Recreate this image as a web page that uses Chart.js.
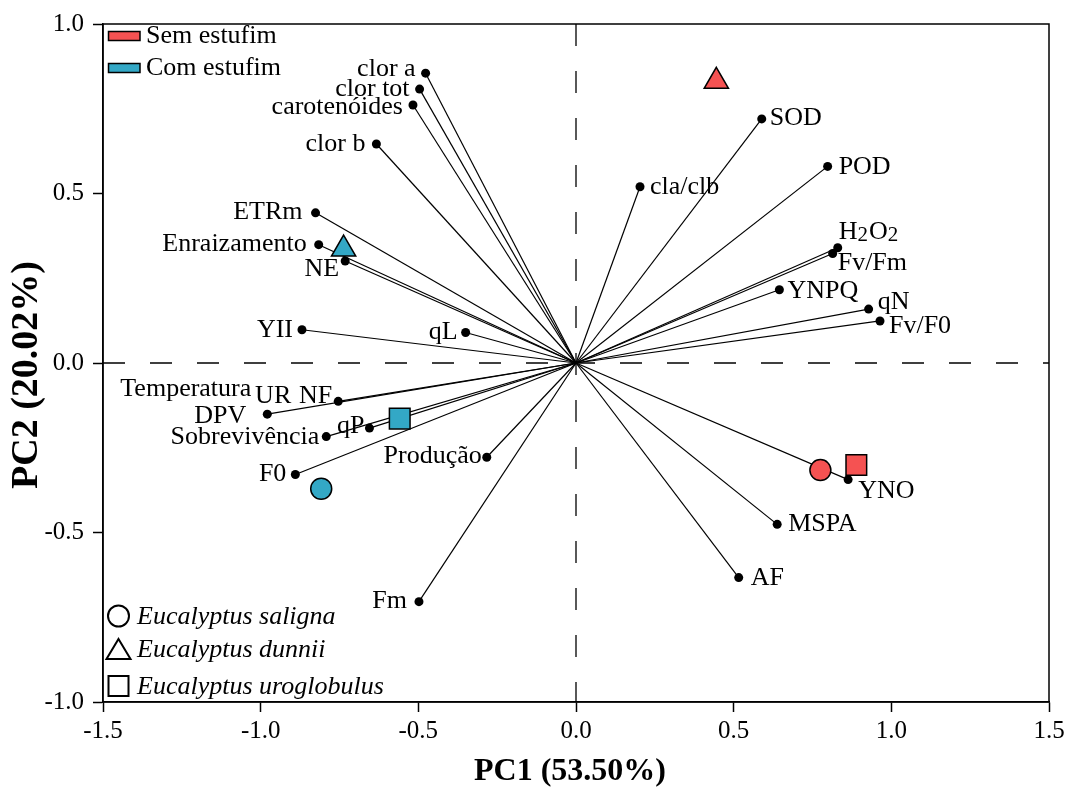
<!DOCTYPE html>
<html>
<head>
<meta charset="utf-8">
<script src="https://cdn.jsdelivr.net/npm/chart.js@4"></script>
<style>
  body { margin: 0; background: #fff; }
  #wrap { width: 1071px; height: 791px; }
</style>
</head>
<body>
<div id="wrap"><canvas id="pca" width="1071" height="791"></canvas></div>
<script>
// loadings (PC1, PC2)
const variables = ['clor a', 'clor tot', 'carotenóides', 'clor b', 'ETRm', 'Enraizamento', 'NE', 'YII', 'qL',
  'Temperatura', 'UR', 'NF', 'DPV', 'qP', 'Sobrevivência', 'F0', 'Produção', 'Fm',
  'cla/clb', 'SOD', 'POD', 'H2O2', 'Fv/Fm', 'YNPQ', 'qN', 'Fv/F0', 'YNO', 'MSPA', 'AF'];
const pc1 = [-0.477, -0.496, -0.517, -0.633, -0.826, -0.816, -0.732, -0.869, -0.350,
  -0.979, -0.754, -0.754, -0.979, -0.655, -0.792, -0.890, -0.283, -0.498,
  0.203, 0.589, 0.798, 0.830, 0.814, 0.645, 0.928, 0.964, 0.863, 0.638, 0.516];
const pc2 = [0.855, 0.808, 0.761, 0.646, 0.443, 0.349, 0.301, 0.098, 0.090,
  -0.151, -0.113, -0.113, -0.151, -0.192, -0.217, -0.329, -0.278, -0.704,
  0.520, 0.720, 0.580, 0.340, 0.323, 0.216, 0.159, 0.124, -0.344, -0.476, -0.633];

// scores
const species = ['Eucalyptus saligna', 'Eucalyptus dunnii', 'Eucalyptus uroglobulus'];
const semPC1 = [0.775, 0.445, 0.889];
const semPC2 = [-0.316, 0.831, -0.301];
const comPC1 = [-0.808, -0.737, -0.559];
const comPC2 = [-0.371, 0.336, -0.164];

const xTicks = [-1.5, -1.0, -0.5, 0.0, 0.5, 1.0, 1.5];
const yTicks = [-1.0, -0.5, 0.0, 0.5, 1.0];

const RED = '#f55252';
const BLUE = '#33a8c6';
const SERIF = "'Liberation Serif', 'Times New Roman', serif";

// where each label sits relative to its dot
const labelPlace = {
  'clor a': ['right', -10, -4], 'clor tot': ['right', -10, 0], 'carotenóides': ['right', -10, 2],
  'clor b': ['right', -11, 0], 'ETRm': ['right', -13, -1], 'Enraizamento': ['right', -12, -1],
  'NE': ['right', -6, 8], 'YII': ['right', -9, 0], 'qL': ['right', -8, 0],
  'Temperatura': ['right', -16, -25], 'UR': ['right', -47, -5], 'NF': ['right', -6, -5],
  'DPV': ['right', -21, 2], 'qP': ['right', -5, -2], 'Sobrevivência': ['right', -7, 1],
  'F0': ['right', -9, 0], 'Produção': ['right', -5, -1], 'Fm': ['right', -12, 0],
  'cla/clb': ['left', 10, 0], 'SOD': ['left', 8, -1], 'POD': ['left', 11, 1],
  'H2O2': ['left', 1, -16], 'Fv/Fm': ['left', 5, 10], 'YNPQ': ['left', 8, 1],
  'qN': ['left', 9, -7], 'Fv/F0': ['left', 9, 5], 'YNO': ['left', 10, 12],
  'MSPA': ['left', 11, 0], 'AF': ['left', 12, 1]
};

const shapes = ['circle', 'triangle', 'rect'];
const shapeRadius = [10.5, 14, 14.6];

// vectors that coincide with an earlier one are not drawn twice
const seen = new Set();
const vectorSets = variables.map((v, i) => {
  const key = pc1[i] + ',' + pc2[i];
  const dup = seen.has(key);
  seen.add(key);
  return {
    label: v,
    data: [{x: 0, y: 0}, {x: pc1[i], y: pc2[i]}],
    showLine: !dup,
    borderColor: '#000',
    borderWidth: 1.2,
    pointRadius: dup ? 0 : [0, 4.5],
    pointHoverRadius: dup ? 0 : [0, 4.5],
    pointBackgroundColor: '#000',
    pointBorderWidth: 0,
    order: 5
  };
});

const scoreSet = (name, xs, ys, color) => ({
  label: name,
  data: xs.map((x, i) => ({x: x, y: ys[i]})),
  pointStyle: shapes,
  pointRadius: shapeRadius,
  pointHoverRadius: shapeRadius,
  backgroundColor: color,
  borderColor: '#000',
  borderWidth: 1.5,
  order: 1
});

const zeroLine = (pts) => ({
  data: pts,
  showLine: true,
  borderColor: '#000',
  borderWidth: 1.3,
  borderDash: [22, 25],
  pointRadius: 0,
  order: 10
});

function drawPlainShape(ctx, style, x, y) {
  ctx.beginPath();
  if (style === 'circle') {
    ctx.arc(x, y, 10.5, 0, Math.PI * 2);
  } else if (style === 'triangle') {
    ctx.moveTo(x, y - 10);
    ctx.lineTo(x + 12, y + 10);
    ctx.lineTo(x - 12, y + 10);
    ctx.closePath();
  } else {
    ctx.rect(x - 10, y - 10, 20, 20);
  }
  ctx.stroke();
}

const decor = {
  id: 'decor',
  afterDraw(chart) {
    const ctx = chart.ctx;
    const a = chart.chartArea;
    const xs = chart.scales.x, ys = chart.scales.y;
    ctx.save();
    ctx.strokeStyle = '#000';
    ctx.lineWidth = 1.5;
    ctx.strokeRect(a.left, a.top, a.right - a.left, a.bottom - a.top);

    // variable labels
    ctx.fillStyle = '#000';
    ctx.textBaseline = 'middle';
    variables.forEach((v, i) => {
      const p = labelPlace[v];
      const px = xs.getPixelForValue(pc1[i]) + p[1];
      const py = ys.getPixelForValue(pc2[i]) + p[2];
      ctx.textAlign = 'left';
      if (v === 'H2O2') {
        let cx = px;
        const parts = [['H', 0], ['2', 1], ['O', 0], ['2', 1]];
        parts.forEach(([t, sub]) => {
          ctx.font = (sub ? '21px ' : '26px ') + SERIF;
          ctx.fillText(t, cx, py + (sub ? 4 : 0));
          cx += ctx.measureText(t).width + (sub ? 1 : 0);
        });
        return;
      }
      ctx.font = '26px ' + SERIF;
      ctx.textAlign = p[0];
      ctx.fillText(v, px, py);
    });

    // treatment legend
    ctx.font = '26px ' + SERIF;
    ctx.textAlign = 'left';
    [['Sem estufim', RED, 36], ['Com estufim', BLUE, 68]].forEach(([t, c, y]) => {
      ctx.fillStyle = c;
      ctx.fillRect(108.5, y - 4.5, 31.5, 9);
      ctx.lineWidth = 1.5;
      ctx.strokeRect(108.5, y - 4.5, 31.5, 9);
      ctx.fillStyle = '#000';
      ctx.fillText(t, 146, y);
    });

    // species legend
    ctx.font = 'italic 26px ' + SERIF;
    ctx.lineWidth = 2;
    [616, 649, 686].forEach((y, i) => {
      drawPlainShape(ctx, shapes[i], 118.5, y);
      ctx.fillText(species[i], 137, y + 1);
    });

    // axis titles
    ctx.font = 'bold 32px ' + SERIF;
    ctx.textAlign = 'center';
    ctx.fillText('PC1 (53.50%)', 570, 772);
    ctx.translate(27, 375);
    ctx.rotate(-Math.PI / 2);
    ctx.font = 'bold 38px ' + SERIF;
    ctx.fillText('PC2 (20.02%)', 0, 0);
    ctx.restore();
  }
};

const axisCommon = {
  type: 'linear',
  grid: { drawOnChartArea: false, drawTicks: true, tickLength: 10, tickColor: '#000', tickWidth: 1.5 },
  border: { color: '#000', width: 1.5 }
};

new Chart(document.getElementById('pca'), {
  type: 'scatter',
  data: {
    datasets: [
      scoreSet('Sem estufim', semPC1, semPC2, RED),
      scoreSet('Com estufim', comPC1, comPC2, BLUE),
      ...vectorSets,
      zeroLine([{x: 0, y: 1}, {x: 0, y: -1}]),
      zeroLine([{x: -1.5, y: 0}, {x: 1.5, y: 0}])
    ]
  },
  options: {
    responsive: false,
    animation: false,
    layout: { padding: { top: 21, right: 22, left: 0, bottom: 0 } },
    plugins: { legend: { display: false }, tooltip: { enabled: false } },
    scales: {
      x: {
        ...axisCommon,
        position: 'bottom',
        min: xTicks[0], max: xTicks[xTicks.length - 1],
        afterBuildTicks: s => { s.ticks = xTicks.map(v => ({value: v})); },
        afterFit: s => { s.height = 89; },
        ticks: { color: '#000', padding: 4, font: { family: SERIF, size: 25 }, callback: v => v.toFixed(1) }
      },
      y: {
        ...axisCommon,
        position: 'left',
        min: yTicks[0], max: yTicks[yTicks.length - 1],
        afterBuildTicks: s => { s.ticks = yTicks.map(v => ({value: v})); },
        afterFit: s => { s.width = 103; },
        ticks: { color: '#000', padding: 9, font: { family: SERIF, size: 25 }, callback: v => v.toFixed(1) }
      }
    }
  },
  plugins: [decor]
});
</script>
</body>
</html>
